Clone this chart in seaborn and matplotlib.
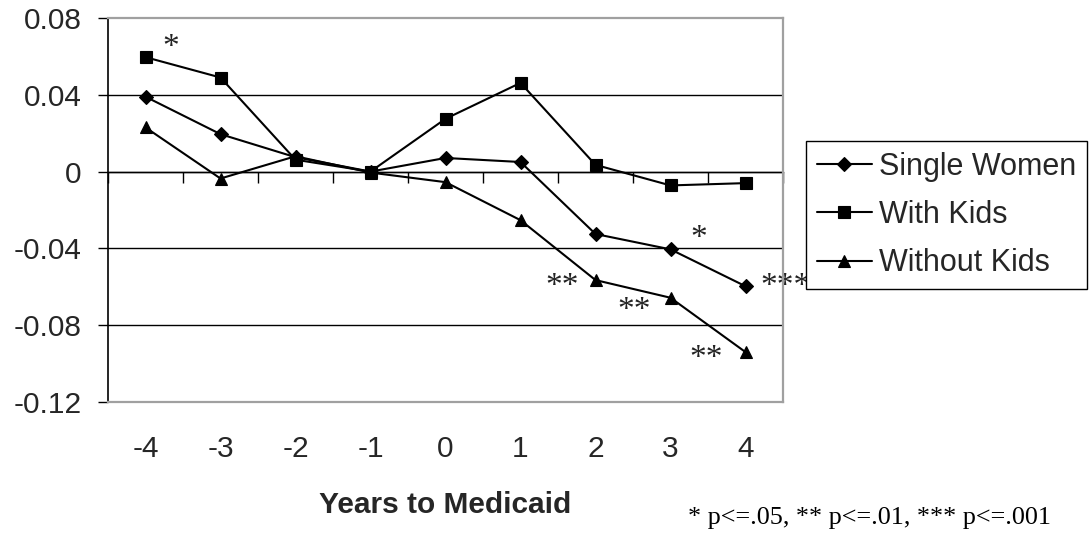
import numpy as np
import pandas as pd
import matplotlib
matplotlib.use("Agg")
import matplotlib.pyplot as plt
import matplotlib.transforms as mtrans
import seaborn as sns

# ---- data ----
years = [-4, -3, -2, -1, 0, 1, 2, 3, 4]
single_women = [0.039, 0.0195, 0.0075, 0.0, 0.0071, 0.005, -0.0325, -0.0405, -0.0597]
with_kids = [0.0596, 0.049, 0.0062, 0.0, 0.0275, 0.0462, 0.0035, -0.0072, -0.006]
without_kids = [0.023, -0.0036, 0.008, -0.0005, -0.0055, -0.0253, -0.0565, -0.0657, -0.094]
series_names = ["Single Women", "With Kids", "Without Kids"]

y_ticks = [-0.12, -0.08, -0.04, 0.0, 0.04, 0.08]
y_tick_labels = ["-0.12", "-0.08", "-0.04", "0", "0.04", "0.08"]
x_tick_labels = ["-4", "-3", "-2", "-1", "0", "1", "2", "3", "4"]

star_x = [-3.67, 3.37, 4.53, 1.56, 2.52, 3.48]
star_y = [0.069, -0.0305, -0.0556, -0.0556, -0.068, -0.093]
star_text = ["*", "*", "***", "**", "**", "**"]

x_label = "Years to Medicaid"
footnote = "* p<=.05, ** p<=.01, *** p<=.001"

df = pd.DataFrame({
    "year": years * 3,
    "value": single_women + with_kids + without_kids,
    "series": [s for s in series_names for _ in years],
})

sns.set_theme(style="white")
plt.rcParams["font.family"] = ["Liberation Sans", "DejaVu Sans"]

fig = plt.figure(figsize=(10.89, 5.40), dpi=100)
ax = fig.add_axes([108 / 1089, 1 - 402 / 540, (783 - 108) / 1089, (402 - 18) / 540])

marker_map = {"Single Women": "D", "With Kids": "s", "Without Kids": "^"}
size_map = {"Single Women": 7.0, "With Kids": 8.0, "Without Kids": 9.0}
for name in series_names:
    sub = df[df["series"] == name]
    sns.lineplot(data=sub, x="year", y="value", ax=ax, color="black",
                 linewidth=1.5, marker=marker_map[name],
                 markersize=size_map[name], markeredgewidth=0.8,
                 markeredgecolor="black", markerfacecolor="black",
                 label=name, legend=False, zorder=3)

ax.set_xlim(years[0] - 0.5, years[-1] + 0.5)
ax.set_ylim(y_ticks[0], y_ticks[-1])
ax.set_yticks(y_ticks)
ax.set_yticklabels(y_tick_labels)
ax.set_xticks(years)
ax.set_xticklabels(x_tick_labels)

ax.tick_params(axis="y", direction="out", length=7.2, width=1, color="black",
               labelsize=21.5, pad=12, left=True)
ax.tick_params(axis="x", length=0, labelsize=21.5, pad=24)

ax.yaxis.grid(True, color="black", linewidth=1)
ax.xaxis.grid(False)
ax.set_axisbelow(True)

for side in ["top", "right", "bottom"]:
    ax.spines[side].set_color("#a0a0a0")
    ax.spines[side].set_linewidth(1.6)
    ax.spines[side].set_visible(True)
ax.spines["left"].set_color("black")
ax.spines["left"].set_linewidth(1.2)

ax.set_xlabel(x_label, fontsize=21.5, fontweight="bold", labelpad=20)
ax.set_ylabel("")

# zero-line axis with ticks between categories
sec = ax.secondary_xaxis(0, transform=ax.transData)
bounds = np.concatenate([np.array(years) - 0.5, [years[-1] + 0.5]])
sec.set_xticks(bounds)
sec.set_xticklabels([""] * len(bounds))
sec.tick_params(axis="x", direction="out", length=8, width=1, color="black")
sec.spines["bottom"].set_color("black")
sec.spines["bottom"].set_linewidth(1)

# significance stars
trans = mtrans.offset_copy(ax.transData, fig=fig, y=-6, units="points")
for sx, sy, st in zip(star_x, star_y, star_text):
    ax.text(sx, sy, st, transform=trans, ha="center", va="center",
            fontsize=24, color="#222222", clip_on=False, zorder=2,
            family=["Liberation Serif", "DejaVu Serif"])

fig.canvas.draw()
gl = ax.yaxis.get_gridlines()
gl[0].set_visible(False)
gl[-1].set_visible(False)

handles, labels = ax.get_legend_handles_labels()
leg = fig.legend(handles, labels, loc="upper left",
                 bbox_to_anchor=(806 / 1089, 1 - 141 / 540),
                 fontsize=22, frameon=True, fancybox=False,
                 edgecolor="black", facecolor="white", framealpha=1,
                 handlelength=1.8, handletextpad=0.25, borderpad=0.35,
                 labelspacing=0.6, borderaxespad=0)
leg.get_frame().set_linewidth(1.0)
leg.set_zorder(10)

fig.text(688 / 1089, 1 - 518 / 540, footnote, ha="left", va="center",
         fontsize=18.8, family=["Liberation Serif", "DejaVu Serif"], color="black")

fig.savefig("out.png", dpi=100, facecolor="white")
